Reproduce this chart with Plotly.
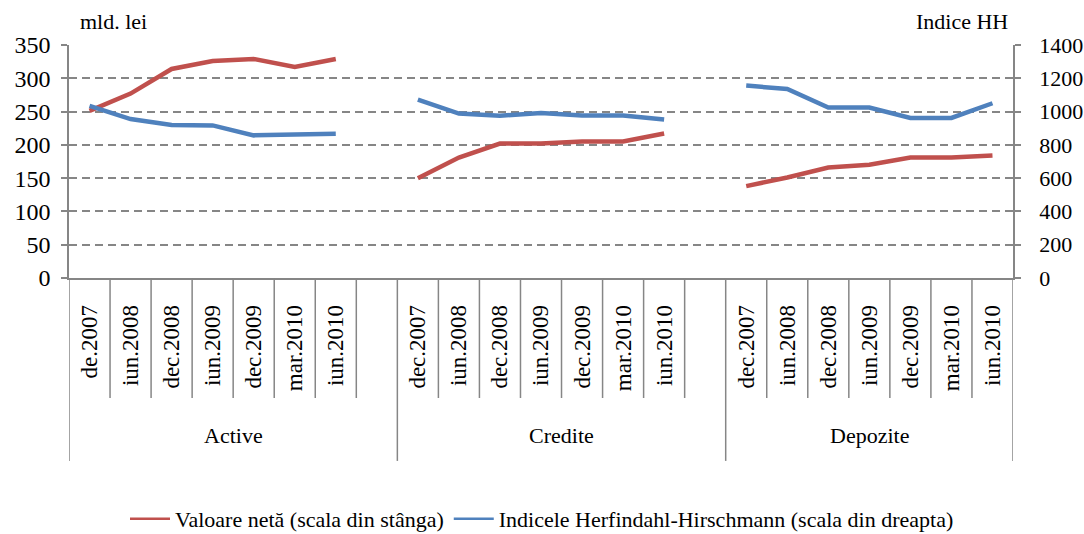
import plotly.graph_objects as go

# ---- data ----
groups = ["Active", "Credite", "Depozite"]
periods_active = ["de.2007", "iun.2008", "dec.2008", "iun.2009", "dec.2009", "mar.2010", "iun.2010"]
periods_credite = ["dec.2007", "iun.2008", "dec.2008", "iun.2009", "dec.2009", "mar.2010", "iun.2010"]
periods_depozite = ["dec.2007", "iun.2008", "dec.2008", "iun.2009", "dec.2009", "mar.2010", "iun.2010"]

valoare_active = [251, 277, 314, 326, 329, 317, 329]
valoare_credite = [150, 181, 202, 202, 205, 205, 217]
valoare_depozite = [138, 151, 166, 170, 181, 181, 184]

hhi_active = [1034, 955, 919, 917, 857, 865, 867]
hhi_credite = [1072, 988, 975, 991, 976, 976, 952]
hhi_depozite = [1156, 1136, 1024, 1024, 962, 962, 1050]

name_val = "Valoare netă (scala din stânga)"
name_hhi = "Indicele Herfindahl-Hirschmann (scala din dreapta)"

# ---- build category slots (a blank slot after Active and Credite, as in the source) ----
group_periods = [periods_active, periods_credite, periods_depozite]
group_val = [valoare_active, valoare_credite, valoare_depozite]
group_hhi = [hhi_active, hhi_credite, hhi_depozite]

tick_labels = []
x_pos, y_val, y_hhi = [], [], []
group_spans = []
slot = 0
for gi, (per, v, h) in enumerate(zip(group_periods, group_val, group_hhi)):
    start = slot
    for p, a, b in zip(per, v, h):
        tick_labels.append(p)
        x_pos.append(slot)
        y_val.append(a)
        y_hhi.append(b)
        slot += 1
    if gi < len(groups) - 1:
        tick_labels.append("")
        x_pos.append(slot)
        y_val.append(None)
        y_hhi.append(None)
        slot += 1
    group_spans.append((start, slot))
n_slots = slot

RED = "#C0504D"
BLUE = "#4F81BD"
GRAY = "#868686"
FONT = "Liberation Serif"

fig = go.Figure()
fig.add_trace(go.Scatter(x=x_pos, y=y_val, mode="lines", name=name_val,
                         line=dict(color=RED, width=4.5), connectgaps=False,
                         showlegend=False, yaxis="y"))
fig.add_trace(go.Scatter(x=x_pos, y=y_hhi, mode="lines", name=name_hhi,
                         line=dict(color=BLUE, width=4.5), connectgaps=False,
                         showlegend=False, yaxis="y2"))
# legend entries (thin line symbols like the source)
fig.add_trace(go.Scatter(x=[None], y=[None], mode="lines", name=name_val,
                         line=dict(color=RED, width=2.5)))
fig.add_trace(go.Scatter(x=[None], y=[None], mode="lines", name=name_hhi,
                         line=dict(color=BLUE, width=2.5), yaxis="y2"))

shapes = []
# slot boundary lines below axis
group_bounds = set([-0.5] + [e - 0.5 for (_, e) in group_spans])
for k in range(n_slots + 1):
    xb = k - 0.5
    if xb in group_bounds:
        y0 = -0.785
    else:
        y0 = -0.515
    shapes.append(dict(type="line", xref="x", yref="paper", x0=xb, x1=xb, y0=y0, y1=0,
                       line=dict(color=GRAY, width=1.5)))

annotations = []
for g, (s, e) in zip(groups, group_spans):
    annotations.append(dict(x=(s + e - 1) / 2, y=-0.674, xref="x", yref="paper",
                            text=g, showarrow=False, yanchor="middle",
                            font=dict(family=FONT, size=22, color="black")))
annotations.append(dict(x=0.0095, y=1.099, xref="paper", yref="paper", text="mld. lei",
                        showarrow=False, xanchor="left", yanchor="middle",
                        font=dict(family=FONT, size=22, color="black")))
annotations.append(dict(x=0.997, y=1.099, xref="paper", yref="paper", text="Indice HH",
                        showarrow=False, xanchor="right", yanchor="middle",
                        font=dict(family=FONT, size=22, color="black")))

fig.update_layout(
    width=1084, height=534,
    margin=dict(l=69, r=71, t=45, b=256, autoexpand=False),
    paper_bgcolor="white", plot_bgcolor="white",
    font=dict(family=FONT, size=22, color="black"),
    showlegend=True,
    legend=dict(orientation="h", x=0.5, xanchor="center", xref="container",
                y=0.028, yanchor="middle", yref="container",
                font=dict(family=FONT, size=22, color="black"),
                itemwidth=40, bgcolor="rgba(0,0,0,0)"),
    xaxis=dict(range=[-0.5, n_slots - 0.5], tickmode="array",
               tickvals=list(range(n_slots)), ticktext=tick_labels,
               tickangle=-90, ticks="", showgrid=False, zeroline=False,
               showline=True, linecolor=GRAY, linewidth=1.5,
               ticklabelstandoff=16, automargin=False,
               tickfont=dict(family=FONT, size=23, color="black")),
    yaxis=dict(range=[0, 350], dtick=50, tick0=0, showgrid=True, gridcolor=GRAY,
               gridwidth=1.6, griddash="8px,5px", zeroline=False,
               showline=True, linecolor=GRAY, linewidth=1.5,
               ticks="outside", ticklen=6, tickcolor=GRAY, tickwidth=1.5,
               ticklabelstandoff=6, automargin=False,
               tickfont=dict(family=FONT, size=24, color="black")),
    yaxis2=dict(range=[0, 1400], dtick=200, tick0=0, overlaying="y", side="right",
                showgrid=False, zeroline=False, showline=True, linecolor=GRAY,
                linewidth=1.5, ticks="outside", ticklen=6, tickcolor=GRAY, tickwidth=1.5,
                ticklabelstandoff=14, automargin=False,
                tickfont=dict(family=FONT, size=22, color="black")),
    shapes=shapes,
    annotations=annotations,
)

fig.write_html("out.html", config={"displayModeBar": False},
               post_script="document.body.style.margin='0px';")
